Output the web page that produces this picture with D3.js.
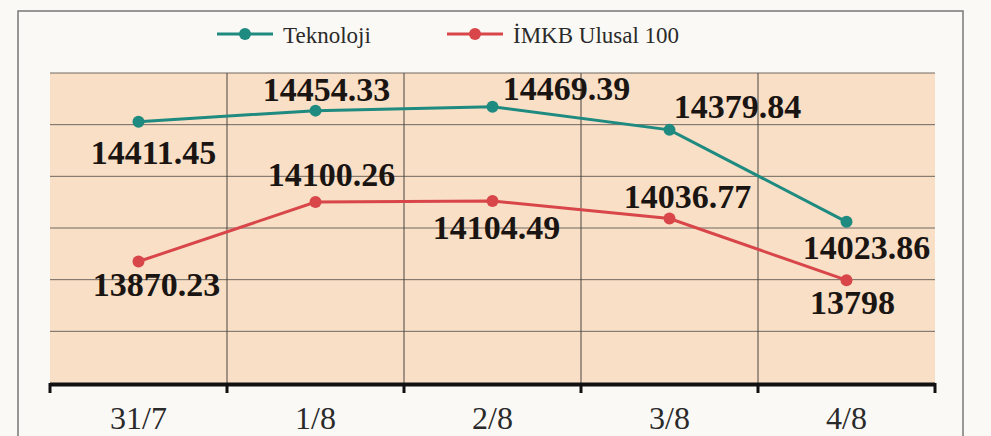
<!DOCTYPE html>
<html>
<head>
<meta charset="utf-8">
<script src="https://cdn.jsdelivr.net/npm/d3@7"></script>
<style>
  body { margin: 0; background: #fbf9f5; }
  svg { display: block; }
</style>
</head>
<body>
<div id="chart"></div>
<script>
// data
const dates = ["31/7", "1/8", "2/8", "3/8", "4/8"];
const teknoloji = [14411.45, 14454.33, 14469.39, 14379.84, 14023.86];
const imkb = [13870.23, 14100.26, 14104.49, 14036.77, 13798];
const teknolojiText = ["14411.45", "14454.33", "14469.39", "14379.84", "14023.86"];
const imkbText = ["13870.23", "14100.26", "14104.49", "14036.77", "13798"];
const yTicks = [13400, 13600, 13800, 14000, 14200, 14400, 14600];

// label placement (dx, dy from the point, text centre / baseline)
const tekLabelPos = [[15, 42], [11, -10], [74, -7], [68, -12], [20, 37]];
const imkbLabelPos = [[18, 34], [16, -16], [4, 38], [18, -11], [6, 34]];

const width = 991, height = 436;
const margin = { top: 73, right: 56, bottom: 53, left: 50 };

const tealColor = "#1e8a80";
const redColor = "#d8464a";

const svg = d3.select("#chart").append("svg")
  .attr("width", width)
  .attr("height", height);

// outer frame
svg.append("rect")
  .attr("x", 18).attr("y", 11)
  .attr("width", 945).attr("height", 440)
  .attr("fill", "#fbf9f5")
  .attr("stroke", "#777").attr("stroke-width", 1.5);

const x = d3.scaleBand()
  .domain(dates)
  .range([margin.left, width - margin.right]);

const y = d3.scaleLinear()
  .domain([13400, 14600])
  .range([height - margin.bottom, margin.top]);

// plot background
svg.append("rect")
  .attr("x", margin.left).attr("y", margin.top)
  .attr("width", x.range()[1] - x.range()[0])
  .attr("height", y(13400) - y(14600))
  .attr("fill", "#f8dfc6");

// horizontal gridlines
svg.append("g")
  .selectAll("line")
  .data(yTicks.slice(1))
  .join("line")
  .attr("x1", margin.left).attr("x2", x.range()[1])
  .attr("y1", d => y(d)).attr("y2", d => y(d))
  .attr("stroke", "#706860").attr("stroke-width", 1);

// vertical gridlines between categories
svg.append("g")
  .selectAll("line")
  .data(dates.slice(1))
  .join("line")
  .attr("x1", d => x(d)).attr("x2", d => x(d))
  .attr("y1", margin.top).attr("y2", y(13400))
  .attr("stroke", "#4a4440").attr("stroke-width", 1);

// x axis
const xAxis = d3.axisBottom(x).tickSize(0).tickPadding(26);
const gx = svg.append("g")
  .attr("transform", `translate(0, ${y(13400)})`)
  .call(xAxis);
gx.select(".domain").remove();
gx.selectAll("text")
  .attr("font-family", "Liberation Serif, serif")
  .attr("font-size", 32)
  .attr("fill", "#2a2a2a")
  .attr("dy", "0.62em");

svg.append("line")
  .attr("x1", margin.left).attr("x2", x.range()[1])
  .attr("y1", y(13400) + 1.5).attr("y2", y(13400) + 1.5)
  .attr("stroke", "#111").attr("stroke-width", 4);

svg.append("g")
  .selectAll("line")
  .data(dates.map(d => x(d)).concat([x.range()[1]]))
  .join("line")
  .attr("x1", d => d).attr("x2", d => d)
  .attr("y1", y(13400)).attr("y2", y(13400) + 10)
  .attr("stroke", "#111").attr("stroke-width", 3);

// series
const cx = d => x(d) + x.bandwidth() / 2;
const series = [
  { name: "Teknoloji", values: teknoloji, text: teknolojiText, pos: tekLabelPos, color: tealColor },
  { name: "İMKB Ulusal 100", values: imkb, text: imkbText, pos: imkbLabelPos, color: redColor }
];

const line = d3.line()
  .x((d, i) => cx(dates[i]))
  .y(d => y(d));

series.forEach(s => {
  svg.append("path")
    .datum(s.values)
    .attr("d", line)
    .attr("fill", "none")
    .attr("stroke", s.color)
    .attr("stroke-width", 3);

  svg.append("g")
    .selectAll("circle")
    .data(s.values)
    .join("circle")
    .attr("cx", (d, i) => cx(dates[i]))
    .attr("cy", d => y(d))
    .attr("r", 6)
    .attr("fill", s.color);

  svg.append("g")
    .selectAll("text")
    .data(s.values)
    .join("text")
    .attr("x", (d, i) => cx(dates[i]) + s.pos[i][0])
    .attr("y", (d, i) => y(d) + s.pos[i][1])
    .attr("text-anchor", "middle")
    .attr("font-family", "Liberation Serif, serif")
    .attr("font-weight", "bold")
    .attr("font-size", 34)
    .attr("fill", "#1a1512")
    .text((d, i) => s.text[i]);
});

// legend
const legendItems = [
  { name: "Teknoloji", color: tealColor, x: 217 },
  { name: "İMKB Ulusal 100", color: redColor, x: 447 }
];
const lg = svg.append("g")
  .selectAll("g")
  .data(legendItems)
  .join("g")
  .attr("transform", d => `translate(${d.x}, 34)`);
lg.append("line")
  .attr("x1", 0).attr("x2", 56)
  .attr("stroke", d => d.color).attr("stroke-width", 3);
lg.append("circle")
  .attr("cx", 28).attr("r", 6)
  .attr("fill", d => d.color);
lg.append("text")
  .attr("x", 66).attr("y", 9)
  .attr("font-family", "Liberation Serif, serif")
  .attr("font-size", 23)
  .attr("fill", "#2a2a2a")
  .text(d => d.name);
</script>
</body>
</html>
